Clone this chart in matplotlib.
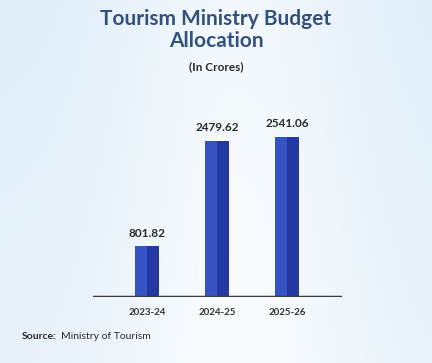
import numpy as np
import matplotlib
matplotlib.use("Agg")
import matplotlib.pyplot as plt

years = ["2023-24", "2024-25", "2025-26"]
budget = [801.82, 2479.62, 2541.06]
value_labels = ["801.82", "2479.62", "2541.06"]

plt.rcParams["font.family"] = ["Lato", "DejaVu Sans"]

fig = plt.figure(figsize=(4.32, 3.63), dpi=100)

# soft blue background
bg = fig.add_axes([0, 0, 1, 1], zorder=-10)
xx = np.linspace(0, 1, 300)
yy = np.linspace(0, 1, 250)
X, Y = np.meshgrid(xx, yy)
shade = 0.55 + 0.35 * np.exp(-((X - 0.55) ** 2) / 0.08) - 0.15 * Y
shade = np.clip(shade, 0, 1)
light = np.array([1.0, 1.0, 1.0])
blue = np.array([0.80, 0.89, 0.96])
img = blue[None, None, :] * (1 - shade[..., None]) + light[None, None, :] * shade[..., None]
bg.imshow(img, aspect="auto", extent=[0, 1, 0, 1], origin="lower")
bg.axis("off")

ax = fig.add_axes([0.215, 0.182, 0.577, 0.504])
ax.patch.set_alpha(0)
x = np.arange(len(years))
w = 0.34
ax.bar(x, budget, width=w, color="#2438a3", zorder=2)
ax.bar(x - w / 4, budget, width=w / 2, color="#3553c2", zorder=3)

for xi, v, lab in zip(x, budget, value_labels):
    ax.text(xi, v + 120, lab, ha="center", va="bottom", fontsize=8.5,
            fontweight="bold", color="#2a2a2a")

ax.set_xlim(-0.771, 2.786)
ax.set_ylim(0, 2900)
ax.axhline(0, color="#3a3a3a", linewidth=2.5, zorder=4)
for s in ax.spines.values():
    s.set_visible(False)
ax.set_yticks([])
ax.set_xticks(x)
ax.set_xticklabels(years, fontsize=7, fontweight="bold", color="#333333")
ax.tick_params(axis="x", length=0, pad=8)

fig.text(0.5, 0.975, "Tourism Ministry Budget\nAllocation", ha="center", va="top",
         fontsize=15, fontweight="bold", color="#33507f", linespacing=1.1)
fig.text(0.5, 0.815, "(In Crores)", ha="center", va="center",
         fontsize=8.5, fontweight="bold", color="#2a2a2a")

fig.text(0.05, 0.074, "Source:", ha="left", va="center", fontsize=7.5,
         fontweight="bold", color="#2a2a2a")
fig.text(0.142, 0.074, "Ministry of Tourism", ha="left", va="center",
         fontsize=7.5, color="#2a2a2a")

fig.savefig("out.png", dpi=100)
